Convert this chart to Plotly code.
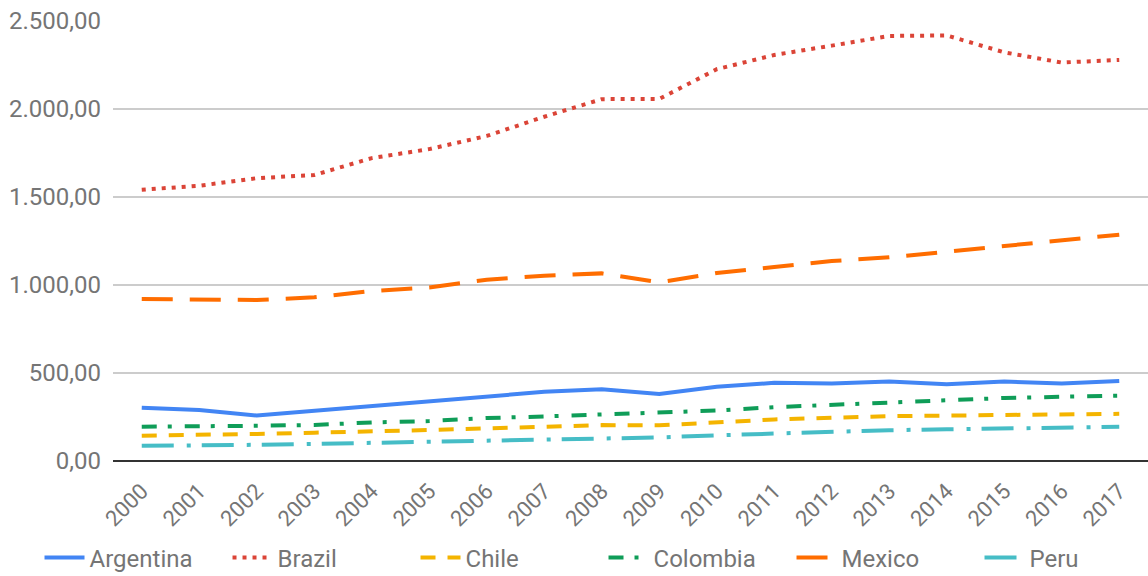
import plotly.graph_objects as go

# Years on the x axis
years = [str(y) for y in range(2000, 2018)]

# Series values per country
argentina = [302, 290, 258, 285, 309, 335, 362, 393, 408, 381, 422, 444, 440, 451, 436, 451, 440, 455]
brazil = [1541, 1564, 1607, 1625, 1721, 1772, 1847, 1956, 2056, 2057, 2226, 2307, 2360, 2415, 2418, 2322, 2264, 2279]
chile = [144, 147, 154, 161, 167, 176, 185, 195, 204, 203, 220, 236, 246, 255, 258, 262, 264, 268]
colombia = [195, 196, 200, 205, 219, 227, 244, 253, 266, 275, 287, 306, 320, 333, 347, 358, 365, 371]
mexico = [920, 915, 915, 930, 966, 986, 1030, 1053, 1066, 1015, 1068, 1102, 1136, 1157, 1189, 1223, 1256, 1286]
peru = [86, 87, 92, 97, 103, 110, 116, 124, 129, 134, 146, 157, 167, 175, 180, 186, 191, 194]

y_ticks = [0, 500, 1000, 1500, 2000, 2500]

series = [
    ("Argentina", argentina, "#4285F4", "solid"),
    ("Brazil", brazil, "#DB4437", "4px,6px"),
    ("Chile", chile, "#F4B400", "15px,12px"),
    ("Colombia", colombia, "#0F9D58", "15px,11px,4px,13px"),
    ("Mexico", mexico, "#FF6D00", "31px,17px"),
    ("Peru", peru, "#46BDC6", "32px,13px,4px,11px"),
]

fig = go.Figure()
for name, vals, color, dash in series:
    fig.add_trace(go.Scatter(
        x=years, y=vals, name=name, mode="lines",
        line=dict(color=color, width=4, dash=dash),
    ))

font_family = "Roboto, Arial, sans-serif"
text_gray = "#757575"

fig.update_layout(
    width=1148, height=576,
    margin=dict(l=113, r=0, t=21, b=115, autoexpand=False),
    paper_bgcolor="white", plot_bgcolor="white",
    separators=",.",
    font=dict(family=font_family, color=text_gray, size=24),
    showlegend=True,
    legend=dict(
        orientation="h", x=-0.071, xanchor="left", y=-0.22, yanchor="middle",
        font=dict(size=24, color=text_gray), itemwidth=40,
        entrywidth=133, entrywidthmode="pixels",
    ),
    xaxis=dict(
        type="category", range=[-0.5, 17.5], tickangle=-45,
        showgrid=False, showline=False, zeroline=False, ticks="",
        tickfont=dict(size=22, color=text_gray), ticklabelstandoff=12,
    ),
    yaxis=dict(
        range=[0, 2500], tickvals=y_ticks, tickformat=",.2f",
        showgrid=True, gridcolor="#cccccc", gridwidth=1.5,
        zeroline=True, zerolinecolor="#333333", zerolinewidth=2,
        showline=False, ticks="",
        tickfont=dict(size=24, color=text_gray), ticklabelstandoff=11,
    ),
)

fig.write_html("out.html")
